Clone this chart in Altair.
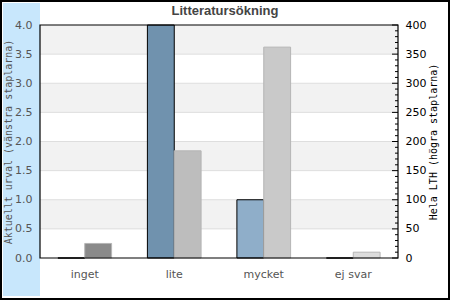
import altair as alt
import pandas as pd

# ---- data ----
kategorier = ["inget", "lite", "mycket", "ej svar"]
aktuellt_urval = [0, 4, 1, 0]          # left axis (vänstra staplarna)
hela_lth = [25, 184, 362, 10]           # right axis (högra staplarna)

vanster_ticks = [0.5, 1.0, 1.5, 2.0, 2.5, 3.0, 3.5]
vanster_labels = [0, 0.5, 1, 1.5, 2, 2.5, 3, 3.5, 4]
rand_lo = [0.5, 1.5, 2.5, 3.5]
rand_hi = [1.0, 2.0, 3.0, 4.0]
hoger_major = [0, 50, 100, 150, 200, 250, 300, 350, 400]
hoger_minor = [v for v in range(0, 401, 10) if v % 50 != 0]

# ---- styles ----
blue_colors = ["#5b7d99", "#7092ae", "#8faec9", "#aac6de"]
gray_colors = ["#8a8a8a", "#bdbdbd", "#c9c9c9", "#dcdcdc"]
W, H = 358, 233
serier = ["vänster", "höger"]

df_v = pd.DataFrame({"kategori": kategorier, "värde": aktuellt_urval, "serie": "vänster"})
df_h = pd.DataFrame({"kategori": kategorier, "värde": hela_lth, "serie": "höger"})
df_rand = pd.DataFrame({"lo": rand_lo, "hi": rand_hi})
df_grid = pd.DataFrame({"y": vanster_ticks})
df_major = pd.DataFrame({"y": hoger_major})
df_minor = pd.DataFrame({"y": hoger_minor})

left_scale = alt.Scale(domain=[0, 4], nice=False, zero=True)
right_scale = alt.Scale(domain=[0, 400], nice=False, zero=True)
x_scale = alt.Scale(domain=kategorier, paddingInner=0.4, paddingOuter=0.2)
xo_scale = alt.Scale(domain=serier, paddingInner=0, paddingOuter=0)

one = pd.DataFrame({"a": [0]})

# decorative band + borders
band = alt.Chart(one).mark_rect(color="#c8e7fc").encode(
    x=alt.value(-37), x2=alt.value(0), y=alt.value(-22), y2=alt.value(271)
)
border = alt.Chart(one).mark_rect(
    fill=None, stroke="black", strokeWidth=2
).encode(x=alt.value(-39), x2=alt.value(409), y=alt.value(-24), y2=alt.value(274))
frame = alt.Chart(one).mark_rect(
    fill=None, stroke="black", strokeWidth=1.2
).encode(x=alt.value(0), x2=alt.value(W), y=alt.value(0), y2=alt.value(H))

stripes = alt.Chart(df_rand).mark_rect(color="#f2f2f2").encode(
    x=alt.value(0), x2=alt.value(W),
    y=alt.Y("lo:Q", scale=left_scale, axis=alt.Axis(
        orient="left", zindex=2,
        title="Aktuellt urval (vänstra staplarna)",
        titleFont="DejaVu Sans Mono", titleFontSize=10, titleFontWeight="normal",
        titleColor="#555555", titleAngle=270, titleX=-32, titleY=H / 2,
        titleAlign="center", titleBaseline="middle",
        labelFont="DejaVu Sans", labelFontSize=11, labelColor="#555555",
        labelPadding=8, values=vanster_labels, format=".1f",
        ticks=False, domain=False, grid=False)),
    y2="hi:Q",
)

grid = alt.Chart(df_grid).mark_rule(color="#dedede", strokeWidth=1).encode(
    x=alt.value(0), x2=alt.value(W),
    y=alt.Y("y:Q", scale=left_scale, axis=None),
)

bars_v = alt.Chart(df_v).mark_bar(stroke="black", strokeWidth=1).encode(
    x=alt.X("kategori:N", scale=x_scale, sort=kategorier, axis=alt.Axis(
        title=None, labelAngle=0, labelFont="DejaVu Sans", labelFontSize=11,
        labelColor="#555555", labelPadding=10, ticks=False, domain=False, zindex=2)),
    xOffset=alt.XOffset("serie:N", scale=xo_scale),
    y=alt.Y("värde:Q", scale=left_scale, axis=None),
    color=alt.Color("kategori:N", scale=alt.Scale(domain=kategorier, range=blue_colors), legend=None),
)

bars_h = alt.Chart(df_h).mark_bar(stroke="#b5b5b5", strokeWidth=1).encode(
    x=alt.X("kategori:N", scale=x_scale, sort=kategorier),
    xOffset=alt.XOffset("serie:N", scale=xo_scale),
    y=alt.Y("värde:Q", scale=right_scale, axis=alt.Axis(
        orient="right", zindex=2, title="Hela LTH (högra staplarna)",
        titleFont="DejaVu Sans Mono", titleFontSize=10, titleFontWeight="normal",
        titleColor="black", titleAngle=270, titleX=35, titleY=H / 2,
        titleAlign="center", titleBaseline="middle",
        labelFont="DejaVu Sans", labelFontSize=11, labelColor="black",
        labelPadding=7, values=hoger_major, ticks=False, domain=False, grid=False)),
    color=alt.Color("kategori:N", scale=alt.Scale(domain=kategorier, range=gray_colors), legend=None),
)

ticks_major = alt.Chart(df_major).mark_rule(color="black").encode(
    x=alt.value(W - 6), x2=alt.value(W),
    y=alt.Y("y:Q", scale=right_scale, axis=None),
)
ticks_minor = alt.Chart(df_minor).mark_rule(color="black").encode(
    x=alt.value(W - 3), x2=alt.value(W),
    y=alt.Y("y:Q", scale=right_scale, axis=None),
)

chart = alt.layer(
    band, stripes, grid, bars_v, bars_h, ticks_major, ticks_minor, frame, border
).resolve_scale(
    y="independent", color="independent"
).properties(
    width=W, height=H,
    title=alt.TitleParams(
        "Litteratursökning", font="Liberation Sans", fontSize=13,
        fontWeight="bold", color="#444444", anchor="middle", frame="group",
        baseline="alphabetic", dx=6, offset=-28,
    ),
    autosize=alt.AutoSizeParams(type="none"),
    padding={"left": 40, "top": 25, "right": 52, "bottom": 42},
).configure_view(stroke=None)

chart.save("out.html", embed_options={"renderer": "svg", "actions": False})
